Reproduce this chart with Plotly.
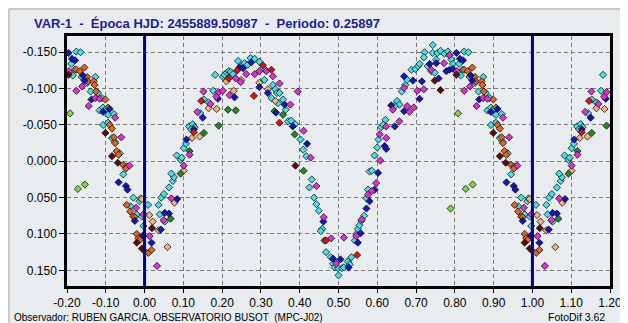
import plotly.graph_objects as go

# ---- data: phase (0..1) and differential magnitude, per colour series ----
cyan_phase = [0.009,0.036,0.039,0.043,0.050,0.052,0.063,0.073,0.076,0.069,0.093,
 0.083,0.096,0.101,0.107,0.115,0.124,0.129,0.120,0.144,0.153,0.165,0.177,0.182,0.202,0.206,0.212,0.217,0.222,0.228,
 0.241,0.248,0.258,0.266,0.273,0.284,0.296,0.309,0.311,0.331,0.337,0.341,0.348,0.327,0.344,0.357,0.364,0.370,0.378,
 0.388,0.402,0.409,0.417,0.431,0.425,0.437,0.443,0.449,0.458,0.454,0.468,0.480,0.486,0.490,0.499,0.500,0.509,0.514,
 0.524,0.529,0.533,0.542,0.546,0.550,0.554,0.559,0.566,0.572,0.576,0.580,0.586,0.593,0.600,0.603,0.610,0.621,0.615,
 0.651,0.657,0.645,0.663,0.672,0.677,0.688,0.698,0.705,0.709,0.722,0.743,0.720,0.730,0.739,0.748,0.743,0.755,0.763,
 0.773,0.782,0.786,0.791,0.795,0.752,0.824,0.835,0.811,0.815,0.820,0.838,0.852,0.873,0.861,0.880,0.890,0.884,0.893,
 0.899,0.906,0.921,0.893,0.906,0.916,0.923,0.936,0.945,0.971,0.987,0.990,0.964,0.980,0.993,0.997]
cyan_mag = [0.060,0.060,0.073,0.050,0.045,0.083,0.036,0.027,0.022,0.017,-0.002,
 -0.008,-0.005,-0.018,-0.024,-0.048,-0.051,-0.047,-0.044,-0.066,-0.085,-0.081,-0.097,-0.119,-0.116,-0.119,-0.122,-0.124,-0.123,-0.120,
 -0.138,-0.131,-0.135,-0.133,-0.142,-0.141,-0.137,-0.112,-0.126,-0.105,-0.099,-0.094,-0.094,-0.087,-0.080,-0.085,-0.071,-0.055,-0.056,
 -0.051,-0.030,-0.016,-0.007,0.025,0.036,0.050,0.059,0.068,0.093,0.096,0.125,0.132,0.141,0.146,0.147,0.157,0.147,0.146,
 0.138,0.142,0.132,0.109,0.100,0.093,0.088,0.082,0.075,0.051,0.039,0.014,0.013,-0.008,-0.019,-0.030,-0.047,-0.057,-0.050,
 -0.083,-0.078,-0.076,-0.096,-0.105,-0.112,-0.126,-0.127,-0.131,-0.134,-0.150,-0.160,-0.143,-0.131,-0.124,-0.122,-0.149,-0.149,-0.152,
 -0.148,-0.151,-0.146,-0.140,-0.134,-0.140,-0.151,-0.150,-0.134,-0.118,-0.126,-0.116,-0.108,-0.116,-0.096,-0.094,-0.087,-0.070,-0.074,
 -0.071,-0.064,-0.065,-0.050,-0.053,-0.032,-0.027,-0.011,0.018,0.050,0.055,0.051,0.062,0.073,0.076,0.089]

blue_phase = [0.996,0.018,0.042,0.052,0.063,0.084,0.108,0.127,0.150,0.189,0.232,0.245,0.254,0.275,0.296,0.318,0.361,
 0.339,0.382,0.419,0.461,0.486,0.505,0.526,0.550,0.557,0.572,0.580,0.593,0.602,0.619,0.623,0.645,0.669,0.636,0.669,
 0.692,0.715,0.709,0.735,0.752,0.758,0.778,0.786,0.795,0.804,0.813,0.821,0.841,0.845,0.863,0.910,0.893,0.933,0.952,
 0.956,0.975]
blue_mag = [0.102,0.112,0.094,0.071,0.072,0.052,-0.030,-0.044,-0.060,-0.086,-0.088,-0.129,-0.128,-0.136,-0.102,-0.094,-0.078,
 -0.067,-0.048,-0.024,0.083,0.134,0.135,0.146,0.112,0.099,0.065,0.055,0.039,0.016,-0.021,-0.017,-0.048,-0.069,-0.077,-0.117,
 -0.111,-0.110,-0.086,-0.134,-0.135,-0.114,-0.124,-0.126,-0.127,-0.149,-0.141,-0.139,-0.118,-0.111,-0.085,-0.072,-0.068,0.029,0.034,
 0.039,0.082]

magenta_phase = [0.032,0.013,0.049,0.069,0.101,0.116,0.136,0.152,0.170,0.185,0.191,0.202,0.219,0.235,0.248,0.262,0.284,
 0.296,0.314,0.331,0.348,0.395,0.376,0.410,0.428,0.443,0.462,0.481,0.514,0.494,0.546,0.560,0.576,0.586,0.597,0.608,
 0.606,0.623,0.623,0.657,0.640,0.677,0.694,0.683,0.669,0.703,0.720,0.739,0.772,0.786,0.805,0.824,0.839,0.856,0.873,
 0.884,0.924,0.940,0.961,0.978,0.997]
magenta_mag = [0.144,0.103,0.081,0.051,0.006,-0.009,-0.068,-0.096,-0.079,-0.089,-0.095,-0.097,-0.091,-0.114,-0.109,-0.120,-0.120,
 -0.124,-0.124,-0.117,-0.107,-0.096,-0.078,-0.042,-0.005,0.034,0.077,0.106,0.105,0.141,0.103,0.080,0.046,0.041,0.030,-0.001,
 -0.037,-0.032,-0.048,-0.055,-0.071,-0.076,-0.074,-0.068,-0.101,-0.097,-0.099,-0.126,-0.135,-0.146,-0.124,-0.097,-0.103,-0.076,-0.087,
 -0.086,-0.060,-0.033,0.006,0.064,0.073]

peach_phase = [0.101,0.077,0.059,0.993,0.012,0.021,0.036,0.122,0.142,0.165,0.186,0.230,0.249,0.296,0.318,0.337,0.211]
peach_mag = [0.013,0.057,0.118,0.052,0.074,0.083,0.095,-0.032,-0.034,-0.073,-0.072,-0.097,-0.112,-0.108,-0.099,-0.083,-0.110]

orange_phase = [0.824,0.833,0.845,0.852,0.854,0.869,0.871,0.875,0.899,0.906,0.910,0.916,0.921,0.924,0.928,0.933,0.945,
 0.954,0.952,0.954,0.963,0.971,0.975,0.980,0.984,0.988,0.001,0.010,0.018]
orange_mag = [-0.126,-0.124,-0.129,-0.116,-0.110,-0.110,-0.105,-0.096,-0.085,-0.074,-0.050,-0.045,-0.033,-0.025,-0.014,-0.009,0.005,
 0.007,0.010,0.060,0.069,0.076,0.077,0.100,0.106,0.108,0.124,0.126,0.122]

darkred_phase = [0.389,0.748,0.763,0.804,0.899,0.916,0.931,0.980,0.993,0.019]
darkred_mag = [0.006,-0.111,-0.098,-0.119,-0.039,-0.007,0.002,0.112,0.120,0.092]

red_phase = [0.146,0.127,0.239,0.305,0.327,0.282,0.348,0.217,0.468,0.548]
red_mag = [-0.083,-0.040,-0.125,-0.132,-0.126,-0.090,-0.053,-0.114,0.109,0.129]

green_phase = [0.153,0.191,0.215,0.235,0.335,0.357,0.387,0.116,0.093,0.067,0.410,0.464]
green_mag = [-0.039,-0.049,-0.071,-0.070,-0.069,-0.064,-0.037,-0.014,0.017,0.079,0.013,0.109]

lgreen_phase = [0.789,0.828,0.846,0.808]
lgreen_mag = [0.065,0.038,0.032,-0.066]

x_tickvals = [-0.2,-0.1,0.0,0.1,0.2,0.3,0.4,0.5,0.6,0.7,0.8,0.9,1.0,1.1,1.2]
x_ticktext = ["-0.20","-0.10","0.00","0.10","0.20","0.30","0.40","0.50","0.60","0.70","0.80","0.90","1.00","1.10","1.20"]
y_tickvals = [-0.15,-0.10,-0.05,0.0,0.05,0.10,0.15]
y_ticktext = ["-0.150","-0.100","-0.050","0.000","0.050","0.100","0.150"]

title_text = "VAR-1  -  Época HJD: 2455889.50987  -  Periodo: 0.25897"
footer_left = "Observador: RUBEN GARCIA. OBSERVATORIO BUSOT  (MPC-J02)"
footer_right = "FotoDif 3.62"

series = [
    (cyan_phase, cyan_mag, "#44E0E4"),
    (peach_phase, peach_mag, "#F2B47A"),
    (orange_phase, orange_mag, "#E2641E"),
    (green_phase, green_mag, "#228A22"),
    (lgreen_phase, lgreen_mag, "#84D444"),
    (blue_phase, blue_mag, "#1414BE"),
    (magenta_phase, magenta_mag, "#E030D4"),
    (red_phase, red_mag, "#E01010"),
    (darkred_phase, darkred_mag, "#5A0C0C"),
]

def folded(ph, mg):
    # phase diagram shows the cycle repeated from -0.2 to 1.2
    xs, ys = list(ph), list(mg)
    for p, m in zip(ph, mg):
        if p >= 0.8:
            xs.append(p - 1.0); ys.append(m)
        if p <= 0.2:
            xs.append(p + 1.0); ys.append(m)
    return xs, ys

BG = "#E8ECEE"
fig = go.Figure()
for ph, mg, col in series:
    xs, ys = folded(ph, mg)
    fig.add_trace(go.Scatter(x=xs, y=ys, mode="markers",
                             marker=dict(symbol="diamond", size=5.5, color=col,
                                         line=dict(color="#111111", width=0.8)),
                             hoverinfo="skip", showlegend=False))

for xv in (0.0, 1.0):
    fig.add_vline(x=xv, line=dict(color="#000080", width=3))

axis_font = dict(family="Liberation Sans, Arial, sans-serif", size=12, color="black")
fig.update_xaxes(range=[-0.2, 1.2], tickvals=x_tickvals, ticktext=x_ticktext,
                 showgrid=True, gridcolor="#7a7a7a", griddash="4px,3px", gridwidth=1,
                 showline=True, linecolor="black", linewidth=2.5, mirror=True,
                 ticks="outside", ticklen=4, tickcolor="black", tickfont=axis_font,
                 zeroline=False)
fig.update_yaxes(range=[0.1716, -0.1724], tickvals=y_tickvals, ticktext=y_ticktext,
                 showgrid=True, gridcolor="#7a7a7a", griddash="4px,3px", gridwidth=1,
                 showline=True, linecolor="black", linewidth=2.5, mirror=True,
                 ticks="outside", ticklen=5, tickcolor="black", tickfont=axis_font,
                 zeroline=False)

W, H = 628, 323
L, R, T, B = 59, 26, 28, 45
pw, ph_ = W - L - R, H - T - B
def px(xp): return (xp - L) / pw
def py(yp): return (H - B - yp) / ph_

fig.add_annotation(x=px(24), y=py(16), xref="paper", yref="paper", text="<b>" + title_text + "</b>",
                   showarrow=False, xanchor="left", yanchor="middle",
                   font=dict(family="Liberation Sans, Arial", size=13, color="#1E1E96"))
fig.add_annotation(x=px(4), y=py(309), xref="paper", yref="paper", text=footer_left,
                   showarrow=False, xanchor="left", yanchor="middle",
                   font=dict(family="Liberation Sans, Arial", size=10, color="black"))
fig.add_annotation(x=px(599), y=py(309), xref="paper", yref="paper", text=footer_right,
                   showarrow=False, xanchor="right", yanchor="middle",
                   font=dict(family="Liberation Sans, Arial", size=10.5, color="black"))
fig.add_shape(type="rect", xref="paper", yref="paper", x0=px(1), x1=px(619), y0=py(320), y1=py(1),
              line=dict(color="#A8A8A8", width=1), layer="below")

fig.update_layout(width=W, height=H, margin=dict(l=L, r=R, t=T, b=B, autoexpand=False),
                  paper_bgcolor=BG, plot_bgcolor=BG)
fig.write_html("out.html")
